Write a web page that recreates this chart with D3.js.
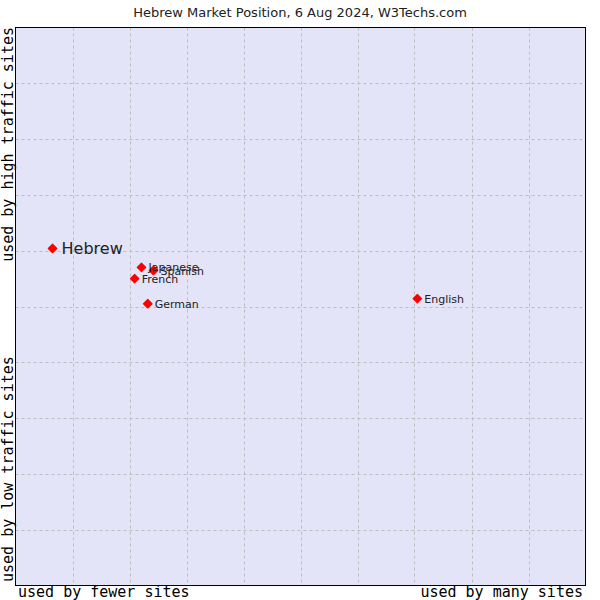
<!DOCTYPE html>
<html><head><meta charset="utf-8">
<script src="https://cdn.jsdelivr.net/npm/d3@7"></script>
<style>body{margin:0;background:#fff}</style>
</head><body>
<script>
const languages = ["Hebrew","Japanese","Spanish","French","German","English"];
const siteUsage = [0.65, 2.21, 2.42, 2.09, 2.32, 7.05];
const trafficRank = [6.04, 5.70, 5.645, 5.50, 5.05, 5.14];
const gridTicks = [1,2,3,4,5,6,7,8,9];
const title = "Hebrew Market Position, 6 Aug 2024, W3Techs.com";

const W=600,H=600, L=15.5, T=27.5, R=585.5, B=585.5;
const svg=d3.select("body").append("svg").attr("width",W).attr("height",H);
const x=d3.scaleLinear().domain([0,10]).range([L,R]);
const y=d3.scaleLinear().domain([0,10]).range([B,T]);

svg.append("rect").attr("x",L).attr("y",T).attr("width",R-L).attr("height",B-T).attr("fill","#e3e4f8");
const g=svg.append("g");
g.selectAll(".vx").data(gridTicks).enter().append("line")
 .attr("x1",d=>Math.round(x(d))+0.5).attr("x2",d=>Math.round(x(d))+0.5).attr("y1",T).attr("y2",B)
 .attr("stroke","#bdbdbd").attr("stroke-dasharray","3,3");
g.selectAll(".hy").data(gridTicks).enter().append("line")
 .attr("y1",d=>Math.round(y(d))+0.5).attr("y2",d=>Math.round(y(d))+0.5).attr("x1",L).attr("x2",R)
 .attr("stroke","#bdbdbd").attr("stroke-dasharray","3,3");
svg.append("rect").attr("x",L).attr("y",T).attr("width",R-L).attr("height",B-T).attr("fill","none").attr("stroke","#000").attr("stroke-width",1);

svg.append("text").attr("x",300).attr("y",17).attr("text-anchor","middle")
 .attr("font-family","DejaVu Sans").attr("font-size",13).attr("fill","#222").text(title);

const mono="DejaVu Sans Mono";
svg.append("text").attr("x",18).attr("y",597).attr("font-family",mono).attr("font-size",15).text("used by fewer sites");
svg.append("text").attr("x",583).attr("y",597).attr("text-anchor","end").attr("font-family",mono).attr("font-size",15).text("used by many sites");
svg.append("text").attr("transform","translate(13,27) rotate(-90)").attr("text-anchor","end").attr("font-family",mono).attr("font-size",15).text("used by high traffic sites");
svg.append("text").attr("transform","translate(13,582) rotate(-90)").attr("text-anchor","start").attr("font-family",mono).attr("font-size",15).text("used by low traffic sites");

const data=languages.map((n,i)=>({n,x:siteUsage[i],y:trafficRank[i]}));
const pts=svg.append("g");
pts.selectAll("path").data(data).enter().append("path")
 .attr("transform",d=>`translate(${x(d.x)},${y(d.y)}) rotate(45)`)
 .attr("d","M-3,-3.6 Q-3.6,-3.6 -3.6,-3 L-3.6,3 Q-3.6,3.6 -3,3.6 L3,3.6 Q3.6,3.6 3.6,3 L3.6,-3 Q3.6,-3.6 3,-3.6 Z")
 .attr("fill","#ff0000");
pts.selectAll("text").data(data).enter().append("text")
 .attr("x",d=>x(d.x)+(d.n==="Hebrew"?9:7)).attr("y",d=>y(d.y)+(d.n==="Hebrew"?6:4))
 .attr("font-family","DejaVu Sans").attr("font-size",d=>d.n==="Hebrew"?16:11).attr("fill","#222").text(d=>d.n);
</script>
</body></html>
